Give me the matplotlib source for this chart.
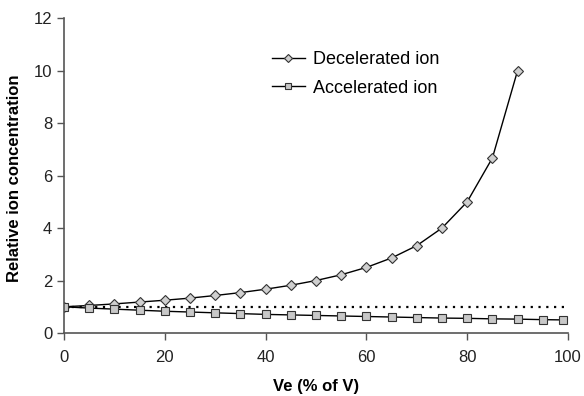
import matplotlib
matplotlib.use('Agg')
import matplotlib.pyplot as plt

plt.rcParams['font.family'] = ['Liberation Sans', 'DejaVu Sans']

# Ve (% of V)
ve_dec = [0, 5, 10, 15, 20, 25, 30, 35, 40, 45, 50, 55, 60, 65, 70, 75, 80, 85, 90]
decelerated = [1.0, 1.05, 1.11, 1.18, 1.25, 1.33, 1.43, 1.54, 1.67, 1.82, 2.0,
               2.22, 2.5, 2.86, 3.33, 4.0, 5.0, 6.67, 10.0]

ve_acc = [0, 5, 10, 15, 20, 25, 30, 35, 40, 45, 50, 55, 60, 65, 70, 75, 80, 85, 90, 95, 99]
accelerated = [1.0, 0.95, 0.91, 0.87, 0.83, 0.8, 0.77, 0.74, 0.71, 0.69, 0.67,
               0.65, 0.63, 0.61, 0.59, 0.57, 0.56, 0.54, 0.53, 0.51, 0.5]

ref_x = [0, 100]
ref_y = [1, 1]

fig = plt.figure(figsize=(5.84, 3.96), dpi=100)
ax = fig.add_axes([0.1096, 0.159, 0.863, 0.7955])

ax.plot(ref_x, ref_y, color='black', linestyle=(0, (1, 2.5)), linewidth=1.6)
ax.plot(ve_dec, decelerated, color='black', linewidth=1.0, marker='D',
        markersize=5, markerfacecolor='#cfcfcf', markeredgecolor='#333333',
        markeredgewidth=0.8, label='Decelerated ion')
ax.plot(ve_acc, accelerated, color='black', linewidth=1.0, marker='s',
        markersize=6, markerfacecolor='#c8c8c8', markeredgecolor='#333333',
        markeredgewidth=0.8, label='Accelerated ion')

ax.set_xlim(0, 100)
ax.set_ylim(0, 12)
ax.set_xticks([0, 20, 40, 60, 80, 100])
ax.set_yticks([0, 2, 4, 6, 8, 10, 12])
ax.spines['top'].set_visible(False)
ax.spines['right'].set_visible(False)
for s in ('left', 'bottom'):
    ax.spines[s].set_color('#555555')
    ax.spines[s].set_linewidth(1.2)
ax.tick_params(direction='out', length=5, width=1, color='#555555',
               labelsize=12, colors='#222222')
ax.tick_params(axis='x', pad=7)

ax.set_xlabel('Ve (% of V)', fontsize=12, fontweight='bold', labelpad=10)
ax.set_ylabel('Relative ion concentration', fontsize=12, fontweight='bold')
ax.yaxis.set_label_coords(-0.083, 0.492)

leg = ax.legend(loc='upper left', bbox_to_anchor=(0.38, 0.947), frameon=False,
                fontsize=13, handlelength=1.85, handletextpad=0.45,
                labelspacing=0.65, markerscale=0.75)

fig.savefig('out.png', dpi=100)
